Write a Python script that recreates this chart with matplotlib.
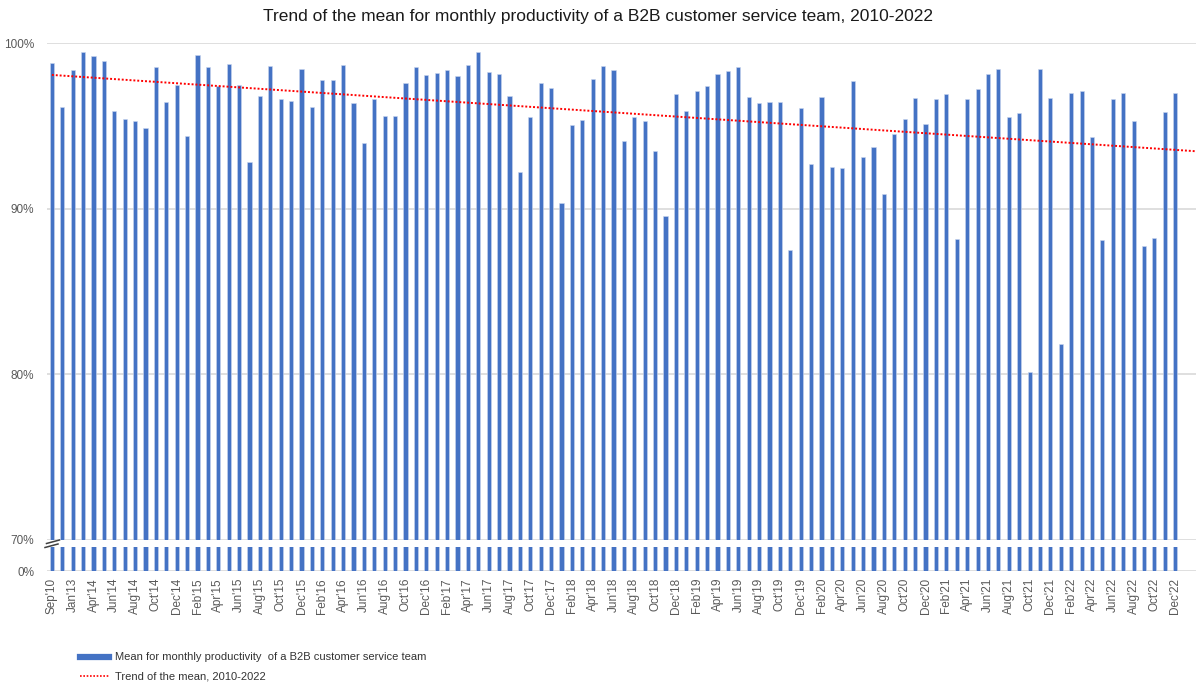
import numpy as np
import matplotlib
matplotlib.use("Agg")
import matplotlib.pyplot as plt
from matplotlib.lines import Line2D

plt.rcParams['font.family'] = ['Liberation Sans', 'DejaVu Sans']

# monthly mean productivity, %
productivity = [
    98.81, 96.14, 98.35, 99.48, 99.24, 98.89, 95.88, 95.42, 95.32, 94.89,
    98.53, 96.42, 97.45, 94.39, 99.26, 98.57, 97.39, 98.75, 97.45, 92.84,
    96.78, 98.61, 96.60, 96.52, 98.43, 96.14, 97.75, 97.75, 98.65, 96.40,
    93.99, 96.64, 95.58, 95.62, 97.61, 98.53, 98.07, 98.19, 98.35, 97.99,
    98.69, 99.44, 98.25, 98.15, 96.82, 92.22, 95.52, 97.61, 97.27, 90.35,
    95.04, 95.38, 97.85, 98.61, 98.35, 94.07, 95.56, 95.28, 93.49, 89.55,
    96.90, 95.90, 97.09, 97.41, 98.15, 98.31, 98.57, 96.76, 96.40, 96.44,
    96.44, 87.50, 96.08, 92.68, 96.76, 92.52, 92.48, 97.69, 93.13, 93.71,
    90.91, 94.53, 95.42, 96.68, 95.12, 96.60, 96.90, 88.16, 96.60, 97.25,
    98.15, 98.45, 95.52, 95.78, 80.14, 98.41, 96.70, 81.83, 96.96, 97.13,
    94.35, 88.12, 96.62, 96.96, 95.28, 87.76, 88.22, 95.82, 96.96,
]

# every second bar carries a label
tick_labels = [
    "Sep'10", "Jan'13", "Apr'14", "Jun'14", "Aug'14", "Oct'14", "Dec'14",
    "Feb'15", "Apr'15", "Jun'15", "Aug'15", "Oct'15", "Dec'15",
    "Feb'16", "Apr'16", "Jun'16", "Aug'16", "Oct'16", "Dec'16",
    "Feb'17", "Apr'17", "Jun'17", "Aug'17", "Oct'17", "Dec'17",
    "Feb'18", "Apr'18", "Jun'18", "Aug'18", "Oct'18", "Dec'18",
    "Feb'19", "Apr'19", "Jun'19", "Aug'19", "Oct'19", "Dec'19",
    "Feb'20", "Apr'20", "Jun'20", "Aug'20", "Oct'20", "Dec'20",
    "Feb'21", "Apr'21", "Jun'21", "Aug'21", "Oct'21", "Dec'21",
    "Feb'22", "Apr'22", "Jun'22", "Aug'22", "Oct'22", "Dec'22",
]

upper_ticks = [70, 80, 90, 100]

BLUE = '#4472C4'
GRID = '#d9d9d9'
TXT = '#595959'

x = np.arange(len(productivity))
vals = np.array(productivity)
slope, intercept = np.polyfit(x, vals, 1)
x_end = 110
trend_x = np.array([0, x_end])
trend_y = intercept + slope * trend_x

W, H = 1196, 682
fig = plt.figure(figsize=(W / 100, H / 100), dpi=100)


def box(l, t, r, b):
    return [l / W, 1 - b / H, (r - l) / W, (b - t) / H]


ax = fig.add_axes(box(46.7, 43, 1196, 540))
ax_low = fig.add_axes(box(46.7, 547, 1196, 571))

for a in (ax, ax_low):
    a.bar(x, vals, width=0.4, color=BLUE, edgecolor='#c9d6ee', linewidth=0.4, zorder=3)
    a.set_xlim(-0.5, x_end)
    for s in a.spines.values():
        s.set_visible(False)
    a.tick_params(length=0, labelsize=8.5, labelcolor=TXT)
    a.grid(axis='y', color=GRID, linewidth=1.2, zorder=0)

# upper part of the broken axis
ax.set_ylim(70, 100)
ax.set_yticks(upper_ticks)
ax.set_yticklabels([f"{t}%" for t in upper_ticks])
ax.tick_params(axis='y', pad=9)
ax.set_xticks([])
ax.plot(trend_x, trend_y, linestyle=(0, (1, 1)), color='#ff0000', linewidth=1.4, zorder=4)

# lower stub from 0%
ax_low.set_ylim(0, 70)
ax_low.set_yticks([0])
ax_low.set_yticklabels(["0%"])
ax_low.tick_params(axis='y', pad=9)
ax_low.set_xticks(x[::2])
ax_low.set_xticklabels(tick_labels, rotation=90)
ax_low.tick_params(axis='x', pad=5)

# break marks next to the 70% label
for (x0, y0, x1, y1) in [(46.5, 543.5, 59.5, 540.0), (45.0, 547.5, 58.0, 544.0)]:
    fig.add_artist(Line2D([x0 / W, x1 / W], [1 - y0 / H, 1 - y1 / H],
                          color='#404040', linewidth=1.1))

fig.text(0.5, 1 - 17 / H,
         "Trend of the mean for monthly productivity of a B2B customer service team, 2010-2022",
         ha='center', va='center', fontsize=12.5, color='#1a1a1a')

handles = [
    Line2D([], [], color=BLUE, linewidth=4.5),
    Line2D([], [], color='#ff0000', linestyle=(0, (1, 1)), linewidth=1.2),
]
labels = [
    "Mean for monthly productivity  of a B2B customer service team",
    "Trend of the mean, 2010-2022",
]
fig.legend(handles, labels, loc='upper left', bbox_to_anchor=(76 / W, 1 - 648 / H),
           frameon=False, fontsize=8, handlelength=2.6, handletextpad=0.5,
           labelspacing=0.85, labelcolor='#333333', borderaxespad=0)

fig.savefig('out.png', dpi=100)
